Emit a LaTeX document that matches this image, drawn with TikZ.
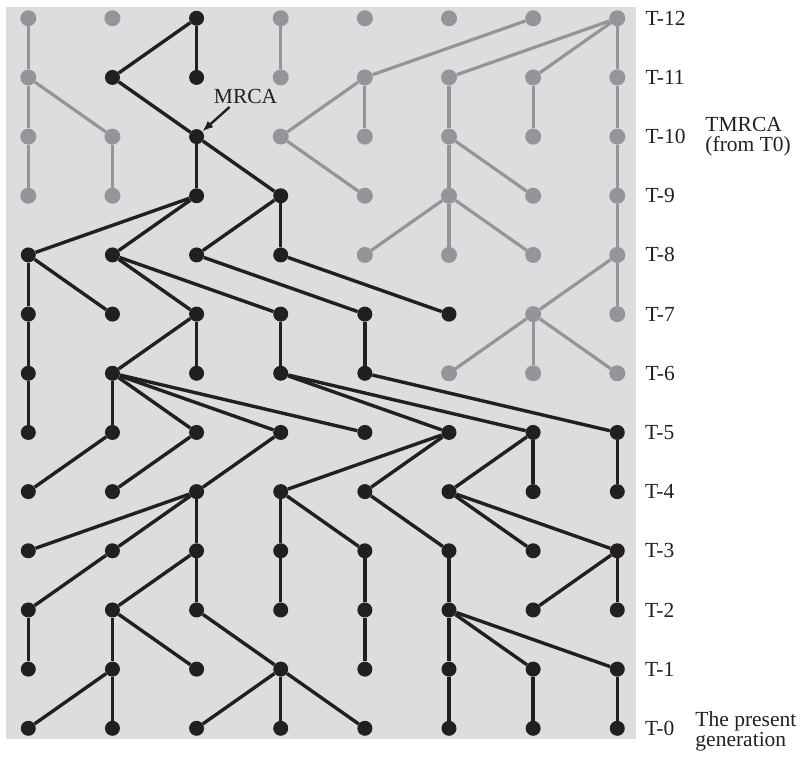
\documentclass[tikz,border=0pt]{standalone}
\usepackage{fontspec}
\setmainfont{Liberation Serif}
\usetikzlibrary{arrows.meta,positioning}
\definecolor{genink}{HTML}{231F20}
\definecolor{genfade}{HTML}{939598}
\definecolor{genbg}{HTML}{DCDDDF}

\begin{document}
\begin{tikzpicture}[
  x=84.14pt,y=59.17pt,
  kdot/.style={circle,fill=genink,inner sep=0pt,minimum size=15pt},
  gdot/.style={circle,fill=genfade,inner sep=0pt,minimum size=16pt},
  kline/.style={draw=genink,line width=3.4pt},
  gline/.style={draw=genfade,line width=3.2pt},
  lbl/.style={inner sep=0pt,text=genink,font=\fontsize{21.5}{20}\selectfont,align=left},
  ptr/.style={-{Latex[length=11pt,width=8.5pt]},line width=2.4pt,genink}
]
\useasboundingbox (55.84pt,-29.7pt) rectangle (866.84pt,728.3pt);
\fill[genbg] (61.84pt,-10.7pt) rectangle (691.84pt,721.3pt);

\foreach \r/\cs in {12/{3},11/{2,3},10/{3},9/{3,4},8/{1,...,4},7/{1,...,6},6/{1,...,5},
                    5/{1,...,8},4/{1,...,8},3/{1,...,8},2/{1,...,8},1/{1,...,8},0/{1,...,8}}
  \foreach \c in \cs \node[kdot] (t-\r-\c) at (\c,\r) {};
\foreach \r/\cs in {12/{1,2,4,5,6,7,8},11/{1,4,5,6,7,8},10/{1,2,4,5,6,7,8},9/{1,2,5,6,7,8},
                    8/{5,6,7,8},7/{7,8},6/{6,7,8}}
  \foreach \c in \cs \node[gdot] (t-\r-\c) at (\c,\r) {};

\foreach \p/\c in {1/1,4/4,7/5,8/6,8/7,8/8} \draw[gline] (t-12-\p) -- (t-11-\c);
\foreach \p/\c in {1/1,1/2,5/4,5/5,6/6,7/7,8/8} \draw[gline] (t-11-\p) -- (t-10-\c);
\foreach \p/\c in {1/1,2/2,4/5,6/6,6/7,8/8} \draw[gline] (t-10-\p) -- (t-9-\c);
\foreach \p/\c in {6/5,6/6,6/7,8/8} \draw[gline] (t-9-\p) -- (t-8-\c);
\foreach \p/\c in {8/7,8/8} \draw[gline] (t-8-\p) -- (t-7-\c);
\foreach \p/\c in {7/6,7/7,7/8} \draw[gline] (t-7-\p) -- (t-6-\c);

\foreach \p/\c in {3/2,3/3} \draw[kline] (t-12-\p) -- (t-11-\c);
\foreach \p/\c in {2/3} \draw[kline] (t-11-\p) -- (t-10-\c);
\foreach \p/\c in {3/3,3/4} \draw[kline] (t-10-\p) -- (t-9-\c);
\foreach \p/\c in {3/1,3/2,4/3,4/4} \draw[kline] (t-9-\p) -- (t-8-\c);
\foreach \p/\c in {1/1,1/2,2/3,2/4,3/5,4/6} \draw[kline] (t-8-\p) -- (t-7-\c);
\foreach \p/\c in {1/1,3/2,3/3,4/4,5/5} \draw[kline] (t-7-\p) -- (t-6-\c);
\foreach \p/\c in {1/1,2/2,2/3,2/4,2/5,4/6,4/7,5/8} \draw[kline] (t-6-\p) -- (t-5-\c);
\foreach \p/\c in {2/1,3/2,4/3,6/4,6/5,7/6,7/7,8/8} \draw[kline] (t-5-\p) -- (t-4-\c);
\foreach \p/\c in {3/1,3/2,3/3,4/4,4/5,5/6,6/7,6/8} \draw[kline] (t-4-\p) -- (t-3-\c);
\foreach \p/\c in {2/1,3/2,3/3,4/4,5/5,6/6,8/7,8/8} \draw[kline] (t-3-\p) -- (t-2-\c);
\foreach \p/\c in {1/1,2/2,2/3,3/4,5/5,6/6,6/7,6/8} \draw[kline] (t-2-\p) -- (t-1-\c);
\foreach \p/\c in {2/1,2/2,4/3,4/4,4/5,6/6,7/7,8/8} \draw[kline] (t-1-\p) -- (t-0-\c);

\foreach \r in {0,...,12} \node[lbl,right=20pt of t-\r-8] (lbl-\r) {T-\r};
\node[lbl,anchor=west] (tmrca) at ([xshift=88pt]t-10-8) {TMRCA\\(from T0)};
\node[lbl,anchor=west] (present) at ([xshift=78pt,yshift=-3pt]t-0-8) {The present\\generation};

\node[lbl] (mrca) at ([shift={(49pt,40.6pt)}]t-10-3) {MRCA};
\coordinate (mrcatail) at ([shift={(-16pt,-11pt)}]mrca.center);
\draw[ptr] (mrcatail) -- (t-10-3);
\end{tikzpicture}
\end{document}
